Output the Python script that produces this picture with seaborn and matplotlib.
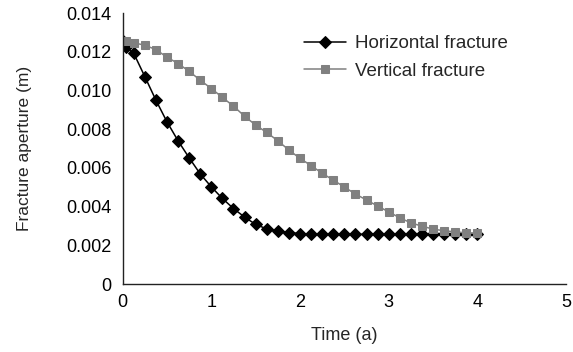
import numpy as np
import pandas as pd
import matplotlib
matplotlib.use("Agg")
import matplotlib.pyplot as plt
from matplotlib.ticker import FuncFormatter
import seaborn as sns

# 1. DATOS
tiempo = [0, 0.04, 0.125, 0.25, 0.375, 0.5, 0.625, 0.75, 0.875, 1.0,
          1.125, 1.25, 1.375, 1.5, 1.625, 1.75, 1.875, 2.0, 2.125, 2.25,
          2.375, 2.5, 2.625, 2.75, 2.875, 3.0, 3.125, 3.25, 3.375, 3.5,
          3.625, 3.75, 3.875, 4.0]

apertura_horizontal = [0.01255, 0.01222, 0.01192, 0.01072, 0.00950, 0.00838, 0.00740, 0.00652, 0.00569, 0.00502,
                       0.00442, 0.00390, 0.00346, 0.00308, 0.00285, 0.00274, 0.00266, 0.00261, 0.00258, 0.00257,
                       0.00257, 0.00257, 0.00257, 0.00257, 0.00257, 0.00257, 0.00257, 0.00257, 0.00257, 0.00257,
                       0.00258, 0.00258, 0.00258, 0.00258]

apertura_vertical = [0.01255, 0.01253, 0.01246, 0.01234, 0.01211, 0.01172, 0.01139, 0.01099, 0.01053, 0.01010,
                     0.00964, 0.00919, 0.00867, 0.00821, 0.00783, 0.00740, 0.00692, 0.00649, 0.00612, 0.00572,
                     0.00537, 0.00501, 0.00465, 0.00434, 0.00403, 0.00373, 0.00342, 0.00316, 0.00299, 0.00284,
                     0.00275, 0.00270, 0.00264, 0.00262]

etiquetas = ["Horizontal fracture", "Vertical fracture"]
x_ticks = [0, 1, 2, 3, 4, 5]
y_ticks = [0, 0.002, 0.004, 0.006, 0.008, 0.010, 0.012, 0.014]

# 2. ESTILO
sns.set_style("white")
plt.rcParams['font.family'] = ['Liberation Sans', 'DejaVu Sans']

fig = plt.figure(figsize=(5.73, 3.52), dpi=100)
ax = fig.add_axes([0.214, 0.193, 0.774, 0.770])

gris = "#808080"
sns.lineplot(x=tiempo, y=apertura_horizontal, ax=ax, color="black", marker="D",
             markersize=6, markeredgecolor="black", linewidth=1.1, label=etiquetas[0])
sns.lineplot(x=tiempo, y=apertura_vertical, ax=ax, color=gris, marker="s",
             markersize=6, markeredgecolor=gris, linewidth=1.1, label=etiquetas[1])

# 3. EJES
ax.set_xlim(0, 5)
ax.set_ylim(0, 0.014)
ax.set_xticks(x_ticks)
ax.set_yticks(y_ticks)
ax.yaxis.set_major_formatter(FuncFormatter(lambda v, p: "0" if v == 0 else f"{v:.3f}"))
ax.tick_params(axis="both", direction="in", length=4, width=1, colors="#222222",
               labelsize=13, labelcolor="black", pad=7)
ax.tick_params(axis="y", pad=8)
ax.set_xlabel("Time (a)", fontsize=13)
ax.set_ylabel("Fracture aperture (m)", fontsize=12.5)
ax.xaxis.set_label_coords(0.50, -0.16)
ax.yaxis.set_label_coords(-0.205, 0.5)

for lado in ["top", "right"]:
    ax.spines[lado].set_visible(False)
for lado in ["left", "bottom"]:
    ax.spines[lado].set_color("#222222")
    ax.spines[lado].set_linewidth(1.0)

ax.legend(loc="upper left", bbox_to_anchor=(0.41, 0.918), frameon=False, fontsize=13.5,
          handlelength=2.2, handletextpad=0.5, labelspacing=0.55,
          borderpad=0, borderaxespad=0)

plt.savefig("out.png", dpi=100)
plt.close()
